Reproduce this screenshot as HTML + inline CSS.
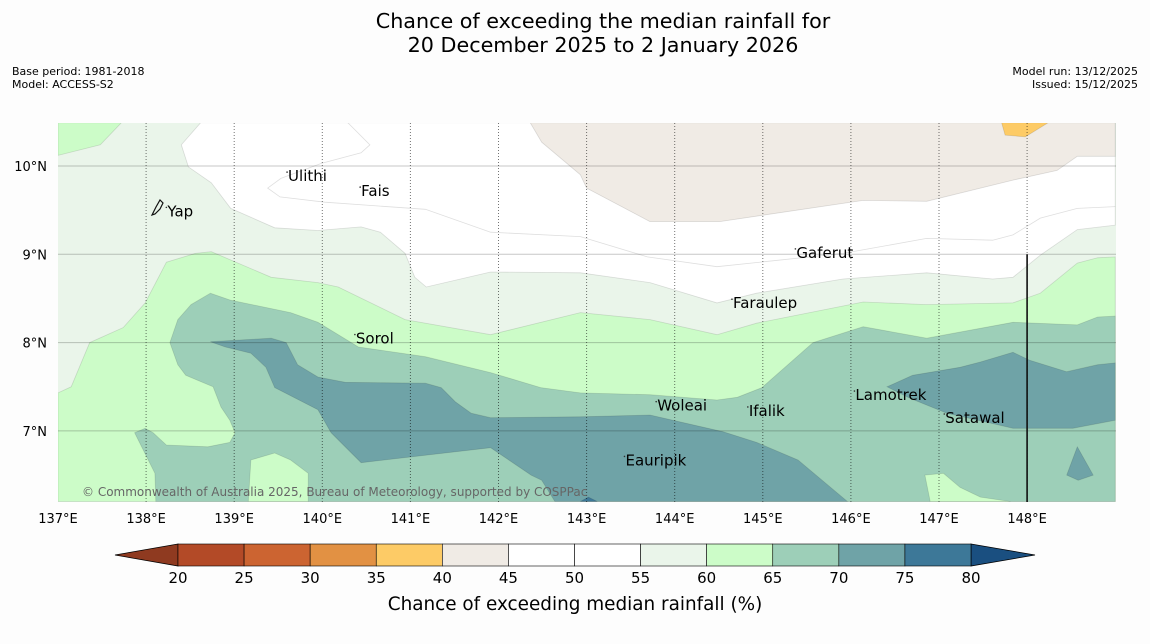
<!DOCTYPE html>
<html><head><meta charset="utf-8"><style>
body{margin:0;background:#fdfdfd;width:1150px;height:644px;overflow:hidden;font-family:"DejaVu Sans","Liberation Sans",sans-serif}
svg{position:absolute;left:0;top:0}
</style></head><body>
<svg id="map" width="1150" height="644" xmlns="http://www.w3.org/2000/svg" font-family="DejaVu Sans, Liberation Sans, sans-serif">
<text x="603" y="28" text-anchor="middle" font-size="20.7" fill="#000">Chance of exceeding the median rainfall for</text>
<text x="603" y="52" text-anchor="middle" font-size="20.7" fill="#000">20 December 2025 to 2 January 2026</text>
<text x="12" y="75" font-size="11">Base period: 1981-2018</text>
<text x="12" y="88" font-size="11">Model: ACCESS-S2</text>
<text x="1138" y="75" font-size="11" text-anchor="end">Model run: 13/12/2025</text>
<text x="1138" y="88" font-size="11" text-anchor="end">Issued: 15/12/2025</text>
<defs><clipPath id="clip"><rect x="58" y="123" width="1058" height="379"/></clipPath></defs>
<g id="plot" clip-path="url(#clip)"></g>
<g id="over"></g>
<g id="cbar"></g>
<text x="575" y="610" text-anchor="middle" font-size="18.4">Chance of exceeding median rainfall (%)</text>
</svg>
<script>
// ---- data ----
const lonTicks=[137,138,139,140,141,142,143,144,145,146,147,148];
const latTicks=[10,9,8,7];
const cbarLevels=[20,25,30,35,40,45,50,55,60,65,70,75,80];
const cbarColors=["#b34a27","#cc6431","#e29143","#fdcb66","#f0ebe5","#ffffff","#ffffff","#eaf5ea","#ccfcc8","#9dcfb8","#6fa3a7","#3d7898"];
const bgBand="#eaf5ea";
const whiteZone=[[138.62,10.49],[149,10.49],[149,9.33],[148.57,9.28],[148.15,8.99],[147.84,8.74],[147.61,8.72],[146.86,8.79],[145.91,8.72],[144.93,8.56],[144.48,8.45],[143.72,8.68],[142.93,8.79],[141.91,8.80],[141.18,8.63],[141.05,8.74],[140.94,9.01],[140.66,9.25],[140.44,9.31],[139.95,9.27],[139.46,9.30],[138.96,9.52],[138.74,9.81],[138.48,9.99],[138.40,10.24]];
const line50=[[140.29,10.49],[140.54,10.24],[140.44,10.15],[139.99,10.03],[139.53,9.86],[139.38,9.75],[139.52,9.65],[140.03,9.59],[141.17,9.51],[141.91,9.25],[142.93,9.20],[143.69,8.97],[144.48,8.86],[145.91,9.01],[146.86,9.18],[147.61,9.16],[147.84,9.22],[148.15,9.41],[148.57,9.52],[149,9.54]];
const beigeZone=[[142.36,10.49],[142.49,10.27],[142.93,9.90],[143.00,9.75],[143.72,9.37],[144.51,9.37],[146.14,9.61],[146.86,9.60],[147.84,9.84],[148.34,9.95],[148.57,10.11],[149,10.11],[149,10.49]];
const orangeZone=[[147.71,10.49],[147.75,10.35],[147.98,10.33],[148.24,10.49]];
const greenCorner=[[137,10.49],[137,10.12],[137.48,10.24],[137.72,10.49]];
const greenBand=[[137,6.2],[137,7.43],[137.15,7.50],[137.36,8.00],[137.74,8.17],[137.99,8.45],[138.23,8.91],[138.56,9.01],[138.74,9.03],[139.42,8.74],[139.95,8.68],[140.18,8.63],[140.94,8.26],[141.91,8.09],[142.93,8.34],[143.72,8.26],[144.48,8.09],[144.93,8.22],[146.14,8.46],[146.86,8.43],[147.84,8.45],[148.15,8.56],[148.57,8.90],[148.80,8.96],[149,8.97],[149,6.2]];
const zone65=[[138.11,6.2],[138.10,6.52],[137.87,6.98],[137.99,7.03],[138.08,6.98],[138.23,6.84],[138.70,6.82],[138.95,6.87],[139.01,6.98],[138.95,7.12],[138.85,7.27],[138.76,7.50],[138.45,7.63],[138.36,7.75],[138.27,8.00],[138.36,8.26],[138.51,8.43],[138.73,8.56],[138.96,8.48],[139.64,8.34],[139.95,8.23],[140.41,7.95],[141.17,7.84],[141.91,7.66],[142.48,7.49],[142.93,7.43],[143.72,7.41],[144.48,7.35],[144.71,7.38],[144.99,7.49],[145.57,8.00],[146.14,8.18],[146.86,8.05],[147.84,8.23],[148.57,8.20],[148.80,8.29],[149,8.30],[149,6.2]];
const greenHoleA=[[139.16,6.2],[139.19,6.67],[139.46,6.75],[139.64,6.67],[139.84,6.52],[139.84,6.2]];
const greenHoleB=[[146.90,6.2],[146.84,6.50],[147.05,6.52],[147.24,6.36],[147.47,6.25],[147.81,6.2]];
const zone70a=[[138.73,8.01],[139.42,8.05],[139.59,8.00],[139.72,7.75],[139.95,7.61],[140.26,7.55],[141.17,7.54],[141.35,7.49],[141.51,7.33],[141.69,7.20],[141.91,7.15],[142.93,7.16],[143.72,7.18],[144.55,6.99],[144.93,6.87],[145.40,6.67],[145.96,6.2],[142.64,6.2],[142.49,6.44],[142.37,6.50],[141.91,6.81],[140.44,6.64],[140.10,6.98],[139.95,7.24],[139.46,7.49],[139.36,7.72],[139.19,7.88],[138.90,7.95]];
const zone70b=[[146.41,7.50],[146.70,7.63],[147.24,7.72],[147.47,7.78],[147.84,7.89],[148.03,7.80],[148.45,7.67],[148.80,7.75],[149,7.77],[149,7.12],[148.52,7.03],[147.84,7.03],[147.58,7.09],[147.09,7.20],[146.67,7.37]];
const zone70c=[[148.57,6.82],[148.75,6.50],[148.58,6.44],[148.45,6.50]];
const zone75=[[142.93,6.2],[143.02,6.25],[143.12,6.2]];
const places=[["Ulithi",139.6,9.92],["Fais",140.43,9.75],["Yap",138.23,9.52],["Gaferut",145.37,9.05],["Faraulep",144.65,8.48],["Sorol",140.37,8.08],["Woleai",143.79,7.32],["Ifalik",144.83,7.26],["Lamotrek",146.04,7.44],["Satawal",147.06,7.18],["Eauripik",143.43,6.70]];
// ---- axes ----
const X=lon=>58+(lon-137)*88.1;
const Y=lat=>166+(10-lat)*88.3;
const NS="http://www.w3.org/2000/svg";
function mk(tag,attrs,parent){const e=document.createElementNS(NS,tag);for(const k in attrs)e.setAttribute(k,attrs[k]);parent.appendChild(e);return e;}
const plot=document.getElementById('plot'),over=document.getElementById('over'),cbar=document.getElementById('cbar');
const pts=a=>a.map(p=>X(p[0]).toFixed(1)+","+Y(p[1]).toFixed(1)).join(" ");
let r=mk('rect',{x:58,y:123,width:1058,height:379,fill:bgBand},plot);


function poly(arr,fill,name){const p=mk('polygon',{points:pts(arr),fill:fill,stroke:'rgba(0,0,0,0.12)','stroke-width':0.8},plot);

}
poly(greenCorner,"#ccfcc8","contour-60-65-corner");
poly(whiteZone,"#ffffff","contour-45-55");
poly(beigeZone,"#f0ebe5","contour-40-45");
poly(orangeZone,"#fdcb66","contour-35-40");
poly(greenBand,"#ccfcc8","contour-60-65");
poly(zone65,"#9dcfb8","contour-65-70");
poly(greenHoleA,"#ccfcc8","contour-60-65-patch-west");
poly(greenHoleB,"#ccfcc8","contour-60-65-patch-east");
poly(zone70a,"#6fa3a7","contour-70-75-west");
poly(zone70b,"#6fa3a7","contour-70-75-east");
poly(zone70c,"#6fa3a7","contour-70-75-patch");
poly(zone75,"#3d7898","contour-75-80");
let l50=mk('polyline',{points:pts(line50),fill:'none',stroke:'rgba(0,0,0,0.13)','stroke-width':0.8},plot);


// gridlines
latTicks.forEach(t=>{const g=mk('line',{x1:58,x2:1116,y1:Y(t),y2:Y(t),stroke:'rgba(0,0,0,0.22)','stroke-width':1},plot);


const tx=mk('text',{x:47,y:Y(t)+5,'font-size':13,'text-anchor':'end'},over);tx.textContent=t+"°N";

});
lonTicks.forEach(t=>{if(t>137){const g=mk('line',{x1:X(t),x2:X(t),y1:123,y2:502,stroke:'rgba(0,0,0,0.55)','stroke-width':1,'stroke-dasharray':'1,2'},plot);

}
const tx=mk('text',{x:X(t),y:523,'font-size':13,'text-anchor':'middle'},over);tx.textContent=t+"°E";

});
let b=mk('line',{x1:X(148),x2:X(148),y1:Y(9),y2:502,stroke:'#111','stroke-width':1.6},plot);


// places
places.forEach(p=>{const d=mk('circle',{cx:X(p[1]),cy:Y(p[2])-1,r:0.8,fill:'#333'},over);


const t=mk('text',{x:X(p[1])+1,y:Y(p[2])+8,'font-size':15,fill:'#000'},over);t.textContent=p[0];

});
let yap=mk('path',{d:'M152,215 L156,207 L160,200 L163,203 L160,209 L155,214 Z',fill:'none',stroke:'#111','stroke-width':1.2},over);


let cp=mk('text',{x:82,y:496,'font-size':12,fill:'#666'},over);cp.textContent="© Commonwealth of Australia 2025, Bureau of Meteorology, supported by COSPPac";


// colorbar
const cx0=178,cx1=971,cy0=544,cy1=566,w=(cx1-cx0)/cbarColors.length;
let le=mk('polygon',{points:`${cx0},${cy0} 115,555 ${cx0},${cy1}`,fill:'#8f3a20',stroke:'#000','stroke-width':0.8},cbar);


let re=mk('polygon',{points:`${cx1},${cy0} 1035,555 ${cx1},${cy1}`,fill:'#1a4f80',stroke:'#000','stroke-width':0.8},cbar);


cbarColors.forEach((c,i)=>{const s=mk('rect',{x:cx0+i*w,y:cy0,width:w,height:cy1-cy0,fill:c,stroke:'#000','stroke-width':0.6},cbar);

});
cbarLevels.forEach((v,i)=>{const t=mk('text',{x:cx0+i*w,y:583,'font-size':15,'text-anchor':'middle'},cbar);t.textContent=v;

});
</script>
</body></html>
